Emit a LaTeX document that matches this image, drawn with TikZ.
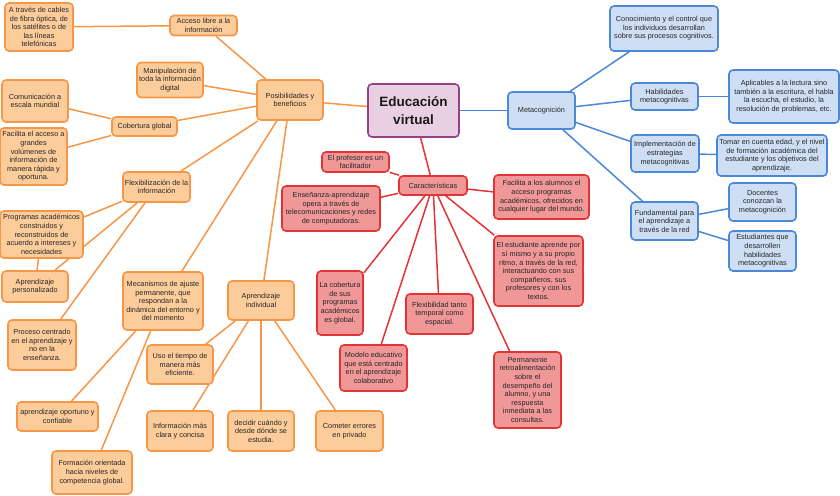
\documentclass[tikz,border=0pt]{standalone}
\usepackage{fontspec}
\setmainfont{Liberation Sans}
\usetikzlibrary{backgrounds}
\definecolor{mapOrange}{RGB}{247,150,70}
\definecolor{mapOrangeFill}{RGB}{253,204,155}
\definecolor{mapRed}{RGB}{226,52,52}
\definecolor{mapRedFill}{RGB}{240,152,152}
\definecolor{mapBlue}{RGB}{76,136,216}
\definecolor{mapBlueFill}{RGB}{206,222,245}
\definecolor{mapPurple}{RGB}{150,65,135}
\definecolor{mapPurpleFill}{RGB}{232,208,226}
\tikzset{
  mapbox/.style={draw, rounded corners=4pt, line width=1.6pt, align=center, inner sep=1pt,
    text=black!85, font=\fontsize{7.3}{8.6}\selectfont},
  obox/.style={mapbox, draw=mapOrange, fill=mapOrangeFill},
  rbox/.style={mapbox, draw=mapRed, fill=mapRedFill},
  bbox/.style={mapbox, draw=mapBlue, fill=mapBlueFill},
  sz/.style 2 args={minimum width=#1pt, minimum height=#2pt},
  oline/.style={mapOrange, line width=1.5pt},
  rline/.style={mapRed, line width=1.5pt},
  bline/.style={mapBlue, line width=1.5pt},
}

\begin{document}
\begin{tikzpicture}[x=1pt, y=-1pt]
  \useasboundingbox (0,0) rectangle (840,495);

  \node[mapbox, draw=mapPurple, fill=mapPurpleFill, sz={91}{53}, text=black!90,
    font=\fontsize{13.5}{18}\selectfont\bfseries] (educ) at (413.5,110.5) {Educación\\virtual};

  % posibilidades y beneficios
  \node[obox, sz={68}{48}] (cables) at (39,27) {A través de cables\\de fibra óptica, de\\los satélites o de\\las líneas\\telefónicas};
  \node[obox, sz={67}{20}] (acceso) at (203.5,25.5) {Acceso libre a la\\información};
  \node[obox, sz={66}{35}] (manip) at (170,80) {Manipulación de\\toda la información\\digital};
  \node[obox, sz={66}{40}] (posib) at (290,100) {Posibilidades y\\beneficios};
  \node[obox, sz={66}{42}] (comun) at (35,101) {Comunicación a\\escala mundial};
  \node[obox, sz={65}{19}] (cobert) at (144.5,126.5) {Cobertura global};
  \node[obox, sz={67}{57}] (facil) at (33.5,156.5) {Facilita el acceso a\\grandes\\volúmenes de\\información de\\manera rápida y\\oportuna.};
  \node[obox, sz={67}{30}] (flexi) at (156.5,187) {Flexibilización de la\\información};
  \node[obox, sz={83}{47}] (progr) at (41.5,234.5) {Programas académicos\\construidos y\\reconstruidos de\\acuerdo a intereses y\\necesidades};
  \node[obox, sz={66}{31}] (aperso) at (35,286.5) {Aprendizaje\\personalizado};
  \node[obox, sz={80}{58}] (mecan) at (163,301) {Mecanismos de ajuste\\permanente, que\\respondan a la\\dinámica del entorno y\\del momento};
  \node[obox, sz={66}{39}] (aindiv) at (261,300.5) {Aprendizaje\\individual};
  \node[obox, sz={68}{50}] (proceso) at (42,345) {Proceso centrado\\en el aprendizaje y\\no en la\\enseñanza.};
  \node[obox, sz={66}{39}] (uso) at (180,364.5) {Uso el tiempo de\\manera más\\eficiente.};
  \node[obox, sz={81}{29}] (oport) at (57.5,416.5) {aprendizaje oportuno y\\confiable};
  \node[obox, sz={66}{40}] (clara) at (180,431) {Información más\\clara y concisa};
  \node[obox, sz={66}{40}] (decidir) at (261,431) {decidir cuándo y\\desde dónde  se\\estudia.};
  \node[obox, sz={67}{40}] (cometer) at (349.5,431) {Cometer errores\\en privado};
  \node[obox, sz={80}{43}] (formac) at (92,472.5) {Formación orientada\\hacia niveles de\\competencia global.};

  % caracteristicas
  \node[rbox, sz={68}{19}] (caract) at (433,185.5) {Características};
  \node[rbox, sz={67}{20}] (profe) at (355.5,162) {El profesor es un\\facilitador};
  \node[rbox, sz={98}{45}] (ensen) at (331,208.5) {Enseñanza-aprendizaje\\opera a través de\\telecomunicaciones y redes\\de computadoras.};
  \node[rbox, sz={95}{44}] (faci2) at (541.5,197) {Facilita a los alumnos el\\acceso programas\\académicos, ofrecidos en\\cualquier lugar del mundo.};
  \node[rbox, sz={89}{70}] (estud) at (538.5,271) {El estudiante aprende por\\sí mismo y a su propio\\ritmo, a través de la red,\\interactuando con sus\\compañeros, sus\\profesores y con los\\textos.};
  \node[rbox, sz={46}{64}] (cobprog) at (340,303) {La cobertura\\de sus\\programas\\académicos\\es global.};
  \node[rbox, sz={67}{40}] (flexib) at (439.5,314) {Flexibilidad tanto\\temporal como\\espacial.};
  \node[rbox, sz={67}{46}] (modelo) at (373.5,368) {Modelo educativo\\que está centrado\\en el aprendizaje\\colaborativo};
  \node[rbox, sz={67}{76}] (perm) at (527.5,390) {Permanente\\retroalimentación\\sobre el\\desempeño del\\alumno, y una\\respuesta\\inmediata a las\\consultas.};

  % metacognicion
  \node[bbox, sz={67}{37}] (meta) at (541.5,110.5) {Metacognición};
  \node[bbox, sz={108}{45}] (conoc) at (664,28.5) {Conocimiento y el control que\\los individuos desarrollan\\sobre sus procesos cognitivos.};
  \node[bbox, sz={67}{27}] (habil) at (664.5,96.5) {Habilidades\\metacognitivas};
  \node[bbox, sz={110}{53}] (aplic) at (784,96.5) {Aplicables a la lectura sino\\también a la escritura, el habla\\la escucha, el estudio, la\\resolución de problemas, etc.};
  \node[bbox, sz={68}{37}] (implem) at (665,153.5) {Implementación de\\estrategias\\metacognitivas};
  \node[bbox, sz={110}{41}] (tomar) at (772,155.5) {Tomar en cuenta edad, y el nivel\\de formación académica del\\estudiante y los objetivos del\\aprendizaje.};
  \node[bbox, sz={67}{38}] (fund) at (664.5,221) {Fundamental para\\el aprendizaje a\\través de la red};
  \node[bbox, sz={67}{38}] (docen) at (762.5,202) {Docentes\\conozcan la\\metacognición};
  \node[bbox, sz={67}{40}] (estq) at (762.5,251) {Estudiantes que\\desarrollen\\habilidades\\metacognitivas};

  \begin{scope}[on background layer]
    \draw[oline] (educ) -- (posib);
    \foreach \n in {acceso, manip, cobert, flexi, mecan, aindiv}
      \draw[oline] (posib) -- (\n);
    \draw[oline] (acceso) -- (cables);
    \draw[oline] (cobert) -- (comun);
    \draw[oline] (cobert) -- (facil);
    \foreach \n in {progr, aperso, proceso}
      \draw[oline] (flexi) -- (\n);
    \draw[oline] (progr) -- (aperso);
    \draw[oline] (mecan) -- (oport);
    \draw[oline] (mecan) -- (formac);
    \foreach \n in {uso, clara, decidir, cometer}
      \draw[oline] (aindiv) -- (\n);

    \draw[rline] (educ) -- (caract);
    \foreach \n in {profe, ensen, faci2, estud, cobprog, flexib, modelo, perm}
      \draw[rline] (caract) -- (\n);

    \draw[bline] (educ) -- (meta);
    \foreach \n in {conoc, habil, implem, fund}
      \draw[bline] (meta) -- (\n);
    \draw[bline] (habil) -- (aplic);
    \draw[bline] (implem) -- (tomar);
    \draw[bline] (fund) -- (docen);
    \draw[bline] (fund) -- (estq);
  \end{scope}
\end{tikzpicture}
\end{document}
